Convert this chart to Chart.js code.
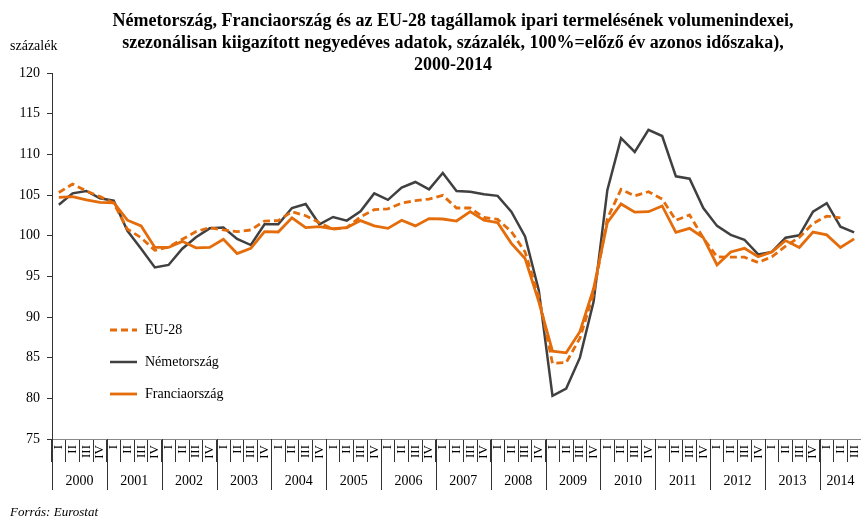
<!DOCTYPE html>
<html lang="hu">
<head>
<meta charset="utf-8">
<script src="https://cdn.jsdelivr.net/npm/chart.js@4.4.1/dist/chart.umd.min.js"></script>
<style>
  html, body { margin: 0; padding: 0; background: #fff; }
  #wrap { position: relative; width: 861px; height: 519px; font-family: "Liberation Serif", serif; }
  #chart { position: absolute; left: 0; top: 0; }
  .title { position: absolute; left: 45px; width: 816px; top: 9px; text-align: center;
           font-weight: bold; font-size: 18px; line-height: 22px; color: #000; }
  .unit { position: absolute; left: 10px; top: 38px; font-size: 14px; color: #000; }
  .source { position: absolute; left: 10px; top: 504px; font-size: 13px; font-style: italic; color: #000; }
</style>
</head>
<body>
<div id="wrap">
  <canvas id="chart" width="861" height="519"></canvas>
  <div class="title">Németország, Franciaország és az EU-28 tagállamok ipari termelésének volumenindexei,<br>szezonálisan kiigazított negyedéves adatok, százalék, 100%=előző év azonos időszaka),<br>2000-2014</div>
  <div class="unit">százalék</div>
  <div class="source">Forrás: Eurostat</div>
</div>
<script>
// Quarterly industrial production volume indices, same period of previous year = 100.

const years = ["2000", "2001", "2002", "2003", "2004", "2005", "2006", "2007",
  "2008", "2009", "2010", "2011", "2012", "2013", "2014"];
const quarterNames = ["I", "II", "III", "IV"];

const eu28 = [105.3, 106.35, 105.5, 104.8, 104.0, 100.8, 99.75, 98.2,
  98.6, 99.55, 100.5, 101.0, 100.7, 100.5, 100.7, 101.8,
  101.85, 102.95, 102.45, 101.6, 100.8, 101.0, 102.3, 103.2,
  103.3, 104.0, 104.3, 104.5, 104.95, 103.4, 103.4, 102.25,
  102.0, 100.5, 98.0, 92.5, 84.3, 84.4, 87.4, 92.9,
  102.1, 105.7, 104.9, 105.4, 104.5, 101.9, 102.55, 99.7,
  97.4, 97.35, 97.35, 96.7, 97.4, 98.7, 99.8, 101.5,
  102.4, 102.2, null];

const germany = [103.8, 105.2, 105.5, 104.6, 104.3, 100.6, 98.4, 96.1,
  96.4, 98.4, 99.8, 100.9, 101.0, 99.6, 98.85, 101.4,
  101.4, 103.4, 103.9, 101.4, 102.3, 101.85, 103.0, 105.2,
  104.4, 105.9, 106.6, 105.7, 107.7, 105.5, 105.4, 105.1,
  104.9, 102.95, 99.9, 93.3, 80.3, 81.2, 85.0, 91.9,
  105.6, 112.0, 110.3, 113.0, 112.25, 107.3, 107.0, 103.4,
  101.2, 100.1, 99.5, 97.7, 98.0, 99.75, 100.05, 102.95,
  104.0, 101.1, 100.4];

const france = [104.7, 104.8, 104.4, 104.1, 104.05, 101.9, 101.2, 98.55,
  98.55, 99.3, 98.5, 98.55, 99.55, 97.8, 98.45, 100.5,
  100.45, 102.2, 101.0, 101.1, 100.85, 101.0, 101.85, 101.2,
  100.9, 101.9, 101.2, 102.1, 102.05, 101.8, 102.95, 101.9,
  101.6, 99.05, 97.2, 91.9, 85.8, 85.6, 88.2, 93.5,
  101.6, 103.9, 102.9, 102.95, 103.65, 100.4, 100.9, 99.75,
  96.4, 98.0, 98.45, 97.4, 98.0, 99.4, 98.55, 100.45,
  100.1, 98.55, 99.6];

const ORANGE = "#e46c0a";
const DARK = "#404040";
const FONT = "'Liberation Serif', serif";

// one label per quarter: I..IV for each year, 2014 only up to III
const quarterLabels = [];
years.forEach((y) => {
  const n = y === "2014" ? 3 : 4;
  for (let q = 0; q < n; q++) quarterLabels.push(quarterNames[q]);
});

// year row under the quarter labels, with the long separators
const yearRow = {
  id: "yearRow",
  afterDraw(chart) {
    const x = chart.scales.x;
    const ctx = chart.ctx;
    const half = (x.getPixelForValue(1) - x.getPixelForValue(0)) / 2;
    const top = x.top;
    ctx.save();
    ctx.strokeStyle = "#333";
    ctx.lineWidth = 1;
    ctx.fillStyle = "#000";
    ctx.font = "14px " + FONT;
    ctx.textAlign = "center";
    ctx.textBaseline = "middle";
    let idx = 0;
    years.forEach((y) => {
      const n = y === "2014" ? 3 : 4;
      const left = x.getPixelForValue(idx) - half;
      const right = x.getPixelForValue(idx + n - 1) + half;
      ctx.beginPath();
      ctx.moveTo(Math.round(left) + 0.5, top);
      ctx.lineTo(Math.round(left) + 0.5, top + 51);
      ctx.stroke();
      ctx.fillText(y, (left + right) / 2, top + 42);
      idx += n;
    });
    ctx.restore();
  },
};

// legend drawn inside the plot, one entry per row
const innerLegend = {
  id: "innerLegend",
  afterDraw(chart) {
    const ctx = chart.ctx;
    const rows = [
      { ds: chart.data.datasets[1], y: 330 },
      { ds: chart.data.datasets[2], y: 362 },
      { ds: chart.data.datasets[0], y: 394 },
    ];
    ctx.save();
    ctx.font = "14px " + FONT;
    ctx.textBaseline = "middle";
    ctx.fillStyle = "#000";
    rows.forEach(({ ds, y }) => {
      ctx.strokeStyle = ds.borderColor;
      ctx.lineWidth = ds.borderWidth;
      ctx.setLineDash(ds.borderDash || []);
      ctx.beginPath();
      ctx.moveTo(110, y);
      ctx.lineTo(137, y);
      ctx.stroke();
      ctx.setLineDash([]);
      ctx.fillText(ds.label, 145, y);
    });
    ctx.restore();
  },
};

new Chart(document.getElementById("chart"), {
  type: "line",
  data: {
    labels: quarterLabels,
    datasets: [
      {
        label: "Franciaország",
        data: france,
        borderColor: ORANGE,
        borderWidth: 2.8,
        pointRadius: 0,
        tension: 0,
        order: 0,
      },
      {
        label: "EU-28",
        data: eu28,
        borderColor: ORANGE,
        borderWidth: 2.8,
        borderDash: [7, 4],
        pointRadius: 0,
        tension: 0,
        order: 1,
      },
      {
        label: "Németország",
        data: germany,
        borderColor: DARK,
        borderWidth: 2.5,
        pointRadius: 0,
        tension: 0,
        order: 2,
      },
    ],
  },
  options: {
    responsive: false,
    animation: false,
    layout: { padding: { top: 73, left: 0, right: 0, bottom: 0 } },
    plugins: {
      legend: { display: false },
      tooltip: { enabled: false },
    },
    scales: {
      x: {
        offset: true,
        grid: {
          offset: true,
          drawOnChartArea: false,
          tickLength: 23,
          color: "#333",
        },
        border: { color: "#888", width: 1 },
        ticks: {
          autoSkip: false,
          minRotation: 90,
          maxRotation: 90,
          padding: -17,
          color: "#000",
          font: { family: FONT, size: 13 },
        },
        afterFit(scale) { scale.height = 80; },
      },
      y: {
        min: 75,
        max: 120,
        grid: { drawOnChartArea: false, tickLength: 5, color: "#333" },
        border: { color: "#333", width: 1 },
        ticks: {
          stepSize: 5,
          padding: 7,
          color: "#000",
          font: { family: FONT, size: 14 },
        },
        afterFit(scale) { scale.width = 52; },
      },
    },
  },
  plugins: [yearRow, innerLegend],
});
</script>
</body>
</html>
